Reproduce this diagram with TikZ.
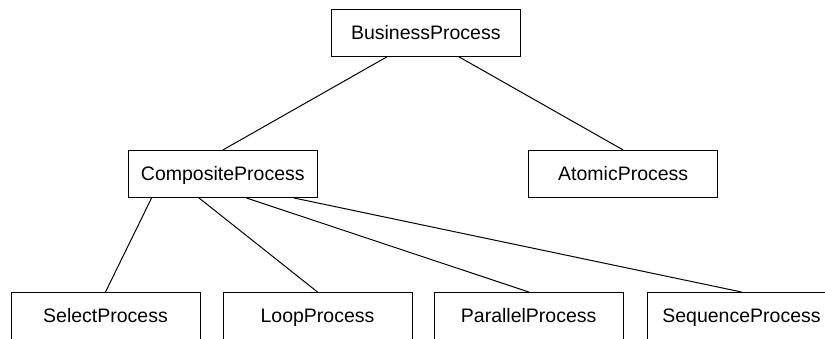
\documentclass[tikz,border=0pt]{standalone}
\usepackage{fontspec}
\setmainfont{Liberation Sans}
\usetikzlibrary{calc}
\begin{document}
\begin{tikzpicture}[x=1pt, y=-1pt,
  box/.style={draw, line width=1pt, minimum width=189pt, minimum height=47pt,
    inner sep=0pt, text height=14.5pt, text depth=1.9pt,
    font=\fontsize{19.5}{23}\selectfont},
  link/.style={line width=1pt}]
\useasboundingbox (0,0) rectangle (825,339);
\clip (0,0) rectangle (825,339);

% process hierarchy
\node[box] (bp)  at (425.8,33)  {BusinessProcess};
\node[box] (cp)  at (222.8,174) {CompositeProcess};
\node[box] (ap)  at (623.2,174) {AtomicProcess};
\node[box] (sel) at (105.5,316) {SelectProcess};
\node[box] (lp)  at (317.5,316) {LoopProcess};
\node[box] (par) at (528.7,316) {ParallelProcess};
\node[box] (seq) at (741.5,316) {SequenceProcess};

% connectors
\draw[link] ($(bp.south west)!0.294!(bp.south east)$) -- (cp.north);
\draw[link] ($(bp.south west)!0.676!(bp.south east)$) -- (ap.north);
\draw[link] ($(cp.south west)!0.125!(cp.south east)$) -- (sel.north);
\draw[link] ($(cp.south west)!0.375!(cp.south east)$) -- (lp.north);
\draw[link] ($(cp.south west)!0.625!(cp.south east)$) -- (par.north);
\draw[link] ($(cp.south west)!0.875!(cp.south east)$) -- (seq.north);
\end{tikzpicture}
\end{document}
